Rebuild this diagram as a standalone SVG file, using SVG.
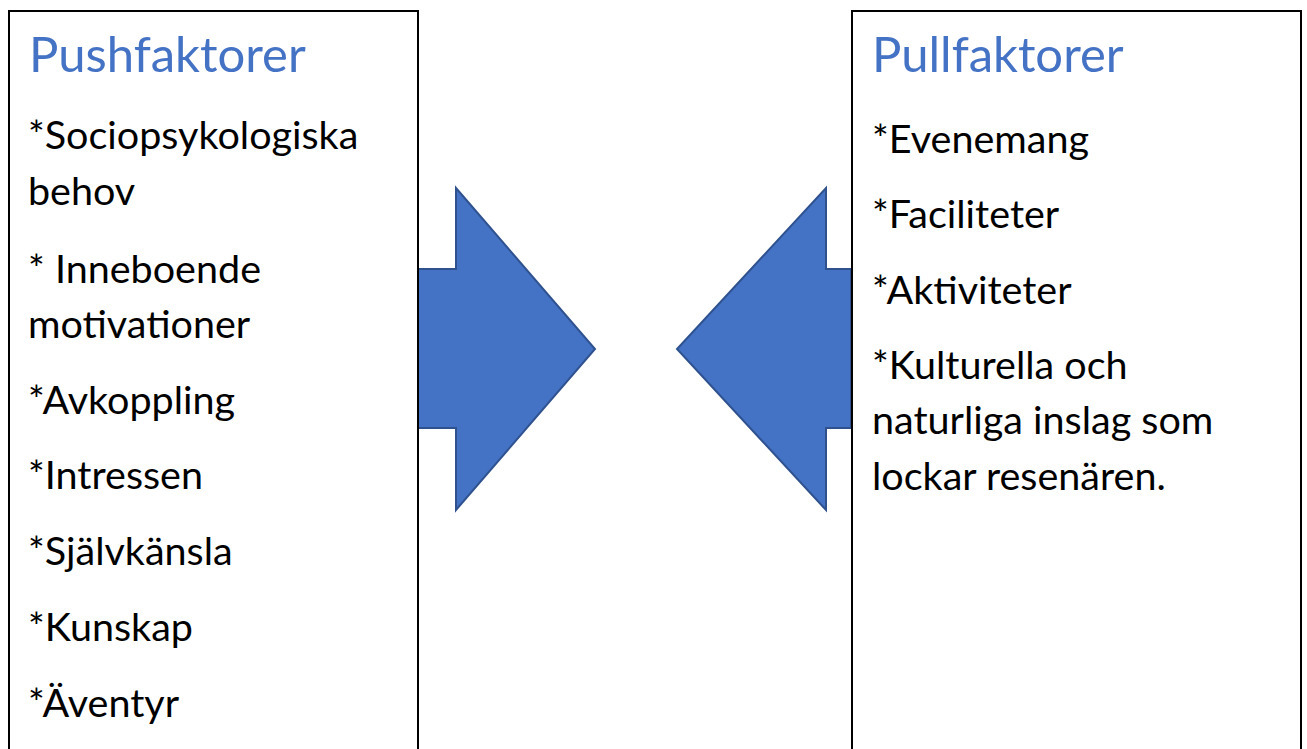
<svg xmlns="http://www.w3.org/2000/svg" width="1307" height="749" viewBox="0 0 1307 749">
<style>
.box{fill:#fff;stroke:#000;stroke-width:2}
.arrow{fill:#4472C4;stroke:#2F528F;stroke-width:2;stroke-linejoin:miter}
.title{font-family:Lato,"Liberation Sans",sans-serif;font-size:49px;fill:#4472C4}
.body{font-family:Lato,"Liberation Sans",sans-serif;font-size:39.5px;fill:#000}
</style>
<rect width="1307" height="749" fill="#fff"/>
<g id="connectors">
<polygon class="arrow" points="418,269 456,269 456,188 595,349 456,510 456,428 418,428"/>
<polygon class="arrow" points="851,269 826,269 826,188 677,349 826,510 826,428 851,428"/>
</g>
<g id="push">
<rect class="box" x="9" y="11" width="409" height="760"/>
<text class="title" x="29" y="72">Pushfaktorer</text>
<text class="body" x="28" y="149">*Sociopsykologiska</text>
<text class="body" x="28" y="205">behov</text>
<text class="body" x="28" y="283">* Inneboende</text>
<text class="body" x="28" y="338">motivationer</text>
<text class="body" x="28" y="414">*Avkoppling</text>
<text class="body" x="28" y="489">*Intressen</text>
<text class="body" x="28" y="565">*Självkänsla</text>
<text class="body" x="28" y="641">*Kunskap</text>
<text class="body" x="28" y="717">*Äventyr</text>
</g>
<g id="pull">
<rect class="box" x="852" y="11" width="449" height="760"/>
<text class="title" x="872" y="72">Pullfaktorer</text>
<text class="body" x="872" y="153">*Evenemang</text>
<text class="body" x="872" y="228">*Faciliteter</text>
<text class="body" x="872" y="304">*Aktiviteter</text>
<text class="body" x="872" y="379">*Kulturella och</text>
<text class="body" x="872" y="434">naturliga inslag som</text>
<text class="body" x="872" y="490">lockar resenären.</text>
</g>
</svg>
